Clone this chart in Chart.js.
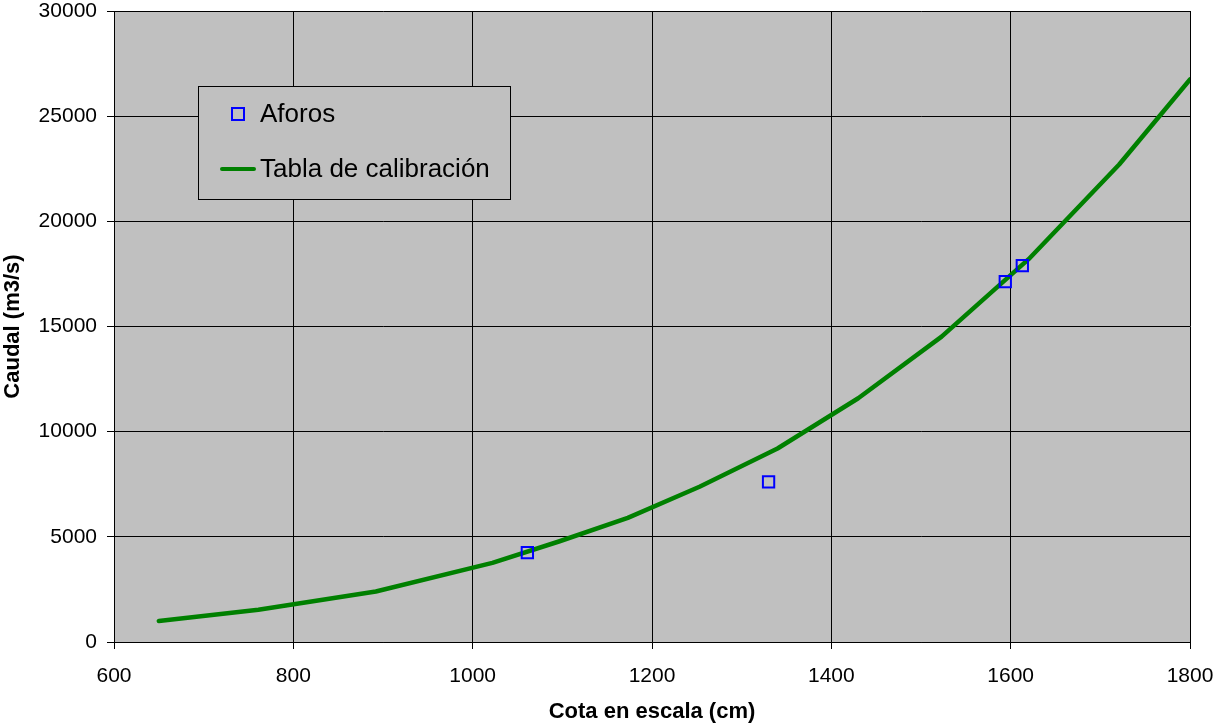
<!DOCTYPE html>
<html>
<head>
<meta charset="utf-8">
<script src="https://cdn.jsdelivr.net/npm/chart.js@4"></script>
<style>
  body { margin: 0; background: #fff; }
  #wrap { width: 1215px; height: 725px; position: relative; }
</style>
</head>
<body>
<div id="wrap"><canvas id="curva"></canvas></div>
<script>
// Aforos (mediciones)
var cotaAforos = [1061, 1330, 1594, 1613];
var caudalAforos = [4250, 7610, 17130, 17890];

// Tabla de calibracion
var cotaTabla = [650, 761, 892, 1022, 1097, 1173, 1253, 1340, 1430, 1523, 1620, 1721, 1800];
var caudalTabla = [1000, 1530, 2400, 3760, 4790, 5900, 7380, 9200, 11590, 14520, 18200, 22700, 26750];

// ticks
var ticksX = [600, 800, 1000, 1200, 1400, 1600, 1800];
var ticksY = [0, 5000, 10000, 15000, 20000, 25000, 30000];

var FONT = "'Liberation Sans', Arial, sans-serif";

function toPoints(xs, ys) {
  return xs.map(function (x, i) { return { x: x, y: ys[i] }; });
}

// quitar el margen automatico que Chart.js deja para las etiquetas
function noPad(s) {
  s.paddingTop = 0;
  s.paddingBottom = 0;
  s.paddingLeft = 0;
  s.paddingRight = 0;
}

// fondo gris del area de trazado
var plotBg = {
  id: "plotBg",
  beforeDraw: function (chart) {
    var a = chart.chartArea;
    var ctx = chart.ctx;
    ctx.save();
    ctx.fillStyle = "#c0c0c0";
    ctx.fillRect(a.left, a.top, a.right - a.left, a.bottom - a.top);
    ctx.restore();
  },
};

// leyenda dentro del grafico (como en Excel)
var boxLegend = {
  id: "boxLegend",
  afterDraw: function (chart) {
    var ctx = chart.ctx;
    var dsA = chart.data.datasets[0];
    var dsT = chart.data.datasets[1];
    ctx.save();
    ctx.fillStyle = "#c0c0c0";
    ctx.fillRect(198, 86, 312, 113);
    ctx.strokeStyle = "#000";
    ctx.lineWidth = 1;
    ctx.strokeRect(198.5, 86.5, 312, 113);

    // marcador aforos
    ctx.strokeStyle = dsA.pointBorderColor;
    ctx.lineWidth = 2;
    ctx.strokeRect(232, 108, 12, 12);

    // linea tabla
    ctx.strokeStyle = dsT.borderColor;
    ctx.lineWidth = 4;
    ctx.lineCap = "round";
    ctx.beginPath();
    ctx.moveTo(222, 169);
    ctx.lineTo(254, 169);
    ctx.stroke();

    ctx.fillStyle = "#000";
    ctx.font = "26px " + FONT;
    ctx.textBaseline = "middle";
    ctx.textAlign = "left";
    ctx.fillText(dsA.label, 260, 115);
    ctx.fillText(dsT.label, 260, 170);
    ctx.restore();
  },
};

var ctx1 = document.getElementById("curva").getContext("2d");

var curva = new Chart(ctx1, {
  type: "scatter",
  data: {
    datasets: [
      {
        label: "Aforos",
        data: toPoints(cotaAforos, caudalAforos),
        pointStyle: "rect",
        pointRadius: 8,
        pointBorderWidth: 2,
        pointBorderColor: "#0000ff",
        pointBackgroundColor: "rgba(0,0,0,0)",
        showLine: false,
        order: 0,
      },
      {
        label: "Tabla de calibración",
        data: toPoints(cotaTabla, caudalTabla),
        showLine: true,
        borderColor: "#008000",
        borderWidth: 4.5,
        borderCapStyle: "round",
        borderJoinStyle: "round",
        pointRadius: 0,
        tension: 0,
        order: 1,
      },
    ],
  },
  plugins: [plotBg, boxLegend],
  options: {
    responsive: true,
    maintainAspectRatio: false,
    animation: false,
    layout: { padding: { top: 11, right: 25, left: 0, bottom: 0 } },
    plugins: {
      legend: { display: false },
      tooltip: { enabled: false },
    },
    scales: {
      x: {
        type: "linear",
        min: 600,
        max: 1800,
        afterFit: function (s) { s.height = 83; noPad(s); },
        afterBuildTicks: function (s) { s.ticks = ticksX.map(function (v) { return { value: v }; }); },
        grid: { color: "#000", lineWidth: 1, tickLength: 7 },
        border: { color: "#000", width: 1 },
        ticks: {
          color: "#000",
          font: { family: FONT, size: 21 },
          padding: 15,
          maxRotation: 0,
          callback: function (v) { return String(v); },
        },
        title: {
          display: true,
          text: "Cota en escala (cm)",
          color: "#000",
          font: { family: FONT, size: 22, weight: "bold" },
          padding: { top: 0, bottom: 0 },
        },
      },
      y: {
        type: "linear",
        min: 0,
        max: 30000,
        afterFit: function (s) { s.width = 114; noPad(s); },
        afterBuildTicks: function (s) { s.ticks = ticksY.map(function (v) { return { value: v }; }); },
        grid: { color: "#000", lineWidth: 1, tickLength: 7 },
        border: { color: "#000", width: 1 },
        ticks: {
          color: "#000",
          font: { family: FONT, size: 21 },
          padding: 10,
          callback: function (v) { return String(v); },
        },
        title: {
          display: true,
          text: "Caudal (m3/s)",
          color: "#000",
          font: { family: FONT, size: 22, weight: "bold" },
          padding: { top: 0, bottom: 0 },
        },
      },
    },
  },
});
</script>
</body>
</html>
